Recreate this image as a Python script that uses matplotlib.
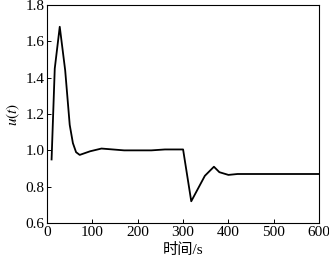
import matplotlib
matplotlib.use('Agg')
import matplotlib.pyplot as plt

# 控制量 u(t) 随时间变化
t = [10, 17, 28, 40, 50, 57, 64, 72, 95, 120, 170, 230, 260, 300, 318, 348, 368, 380, 400, 420, 600]
u = [0.95, 1.45, 1.68, 1.44, 1.14, 1.04, 0.99, 0.975, 0.995, 1.01, 1.0, 1.0, 1.005, 1.005, 0.72, 0.86, 0.91, 0.88, 0.865, 0.87, 0.87]

xticks = [0, 100, 200, 300, 400, 500, 600]
yticks = [0.6, 0.8, 1.0, 1.2, 1.4, 1.6, 1.8]

plt.rcParams['font.family'] = ['Liberation Serif', 'Noto Sans CJK SC']
plt.rcParams['font.size'] = 11
plt.rcParams['mathtext.fontset'] = 'stix'

fig = plt.figure(figsize=(3.29, 2.60), dpi=100)
ax = fig.add_axes([0.143, 0.142, 0.827, 0.839])
ax.plot(t, u, color='black', lw=1.3)

ax.set_xlim(0, 600)
ax.set_ylim(0.6, 1.8)
ax.set_xticks(xticks)
ax.set_yticks(yticks)
ax.set_yticklabels(['%.1f' % v for v in yticks])
ax.tick_params(direction='in', length=3, width=0.7, pad=2, labelsize=11)
for s in ax.spines.values():
    s.set_linewidth(0.8)

ax.set_xlabel('时间/s', labelpad=3, fontsize=11)
ax.set_ylabel(r'$u(t)$', labelpad=2, fontsize=11)

fig.savefig('out.png', dpi=100)
